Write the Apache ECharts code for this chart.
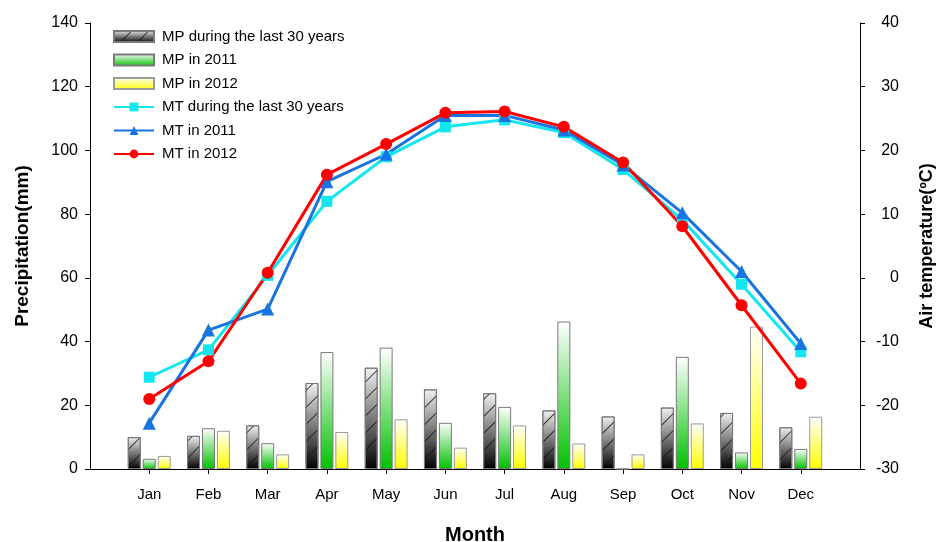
<!DOCTYPE html>
<html>
<head>
<meta charset="utf-8">
<script src="https://cdn.jsdelivr.net/npm/echarts@6/dist/echarts.min.js"></script>
<style>html,body{margin:0;padding:0;background:#fff;}#c{width:936px;height:542px;}</style>
</head>
<body>
<div id="c"></div>
<script>
const months = ['Jan','Feb','Mar','Apr','May','Jun','Jul','Aug','Sep','Oct','Nov','Dec'];
const mp30   = [10.0, 10.4, 13.7, 27.0, 31.8, 25.0, 23.8, 18.4, 16.5, 19.3, 17.6, 13.1];
const mp2011 = [3.2, 12.8, 8.1, 36.7, 38.1, 14.5, 19.5, 46.3, 0, 35.2, 5.2, 6.3];
const mp2012 = [4.1, 12.0, 4.6, 11.6, 15.6, 6.7, 13.7, 8.0, 4.6, 14.3, 44.7, 16.4];
const mt30   = [-15.6, -11.3, 0.4, 12.0, 19.0, 23.7, 24.8, 22.8, 17.0, 9.1, -1.0, -11.6];
const mt2011 = [-22.8, -8.2, -4.9, 15.1, 19.4, 25.5, 25.5, 23.2, 17.7, 10.2, 1.0, -10.3];
const mt2012 = [-19.0, -13.1, 0.8, 16.2, 21.0, 25.9, 26.1, 23.7, 18.1, 8.1, -4.3, -16.6];
const leftTicks = {min: 0, max: 140, interval: 20};
const rightTicks = {min: -30, max: 40, interval: 10};

const pad = a => [null].concat(a, [null]);
const cats = [''].concat(months, ['']);
const font = 'Liberation Sans, Arial, sans-serif';
const grad = (c0, c1) => ({type:'linear', x:0, y:0, x2:0, y2:1, colorStops:[{offset:0,color:c0},{offset:1,color:c1}]});

const chart = echarts.init(document.getElementById('c'), null, {renderer:'canvas'});
const barCommon = {type:'bar', barWidth:13, barGap:'15%', yAxisIndex:0};
const legendText = {fontFamily:font, fontSize:15, color:'#000', padding:[0,0,0,3]};
chart.setOption({
  animation:false,
  textStyle:{fontFamily:font, color:'#000'},
  grid:{left:90, right:76, top:23, bottom:73, containLabel:false, outerBoundsMode:'none'},
  legend:{
    orient:'vertical', left:108, top:24, itemWidth:40, itemHeight:11, itemGap:8.5,
    textStyle:legendText,
    data:[
      {name:'MP during the last 30 years', icon:'rect'},
      {name:'MP in 2011', icon:'rect'},
      {name:'MP in 2012', icon:'rect'},
      'MT during the last 30 years','MT in 2011','MT in 2012']
  },
  xAxis:{
    type:'category', data:cats, boundaryGap:false,
    name:'Month', nameLocation:'middle', nameGap:56,
    nameTextStyle:{fontFamily:font, fontSize:20, fontWeight:'bold', color:'#000'},
    axisLine:{lineStyle:{color:'#000', width:1}},
    axisTick:{interval:(i)=> i>0 && i<13, length:5, lineStyle:{color:'#000'}},
    axisLabel:{interval:0, margin:18, fontSize:15, color:'#000', fontFamily:font},
    splitLine:{show:false}
  },
  yAxis:[
    {type:'value', min:leftTicks.min, max:leftTicks.max, interval:leftTicks.interval,
     name:'Precipitation(mm)', nameLocation:'middle', nameGap:58,
     nameTextStyle:{fontFamily:font, fontSize:19, fontWeight:'bold', color:'#000'},
     axisLine:{show:true, lineStyle:{color:'#000'}},
     axisTick:{show:true, length:5, lineStyle:{color:'#000'}},
     axisLabel:{fontSize:16, color:'#000', margin:12, fontFamily:font},
     splitLine:{show:false}},
    {type:'value', min:rightTicks.min, max:rightTicks.max, interval:rightTicks.interval, position:'right',
     name:'Air temperature(ºC)', nameLocation:'middle', nameGap:58,
     nameTextStyle:{fontFamily:font, fontSize:18, fontWeight:'bold', color:'#000'},
     axisLine:{show:true, lineStyle:{color:'#000'}},
     axisTick:{show:true, length:5, lineStyle:{color:'#000'}},
     axisLabel:{fontSize:16, color:'#000', margin:39, align:'right', fontFamily:font},
     splitLine:{show:false}}
  ],
  series:[
    Object.assign({}, barCommon, {name:'MP during the last 30 years', data:pad(mp30),
      itemStyle:{color:grad('#f2f2f2','#000000'), borderColor:'#7a7a7a', borderWidth:1,
        decal:{symbol:'rect', symbolSize:1, dashArrayX:[[1,0]], dashArrayY:[1,11], rotation:-Math.PI/4, color:'rgba(20,20,20,0.8)', backgroundColor:null}}}),
    Object.assign({}, barCommon, {name:'MP in 2011', data:pad(mp2011),
      itemStyle:{color:grad('#ffffff','#00c000'), borderColor:'#7a7a7a', borderWidth:1}}),
    Object.assign({}, barCommon, {name:'MP in 2012', data:pad(mp2012),
      itemStyle:{color:grad('#ffffff','#ffff00'), borderColor:'#9a9a9a', borderWidth:1}}),
    {type:'line', name:'MT during the last 30 years', yAxisIndex:1, data:pad(mt30),
      symbol:'rect', symbolSize:11, color:'#12e6ee', lineStyle:{width:3, color:'#12e6ee'}, itemStyle:{color:'#12e6ee'}},
    {type:'line', name:'MT in 2011', yAxisIndex:1, data:pad(mt2011),
      symbol:'triangle', symbolSize:13, color:'#1874e0', lineStyle:{width:3, color:'#1874e0'}, itemStyle:{color:'#1874e0'}},
    {type:'line', name:'MT in 2012', yAxisIndex:1, data:pad(mt2012),
      symbol:'circle', symbolSize:12, color:'#ff0000', lineStyle:{width:3, color:'#ff0000'}, itemStyle:{color:'#ff0000'}}
  ]
});
</script>
</body>
</html>
